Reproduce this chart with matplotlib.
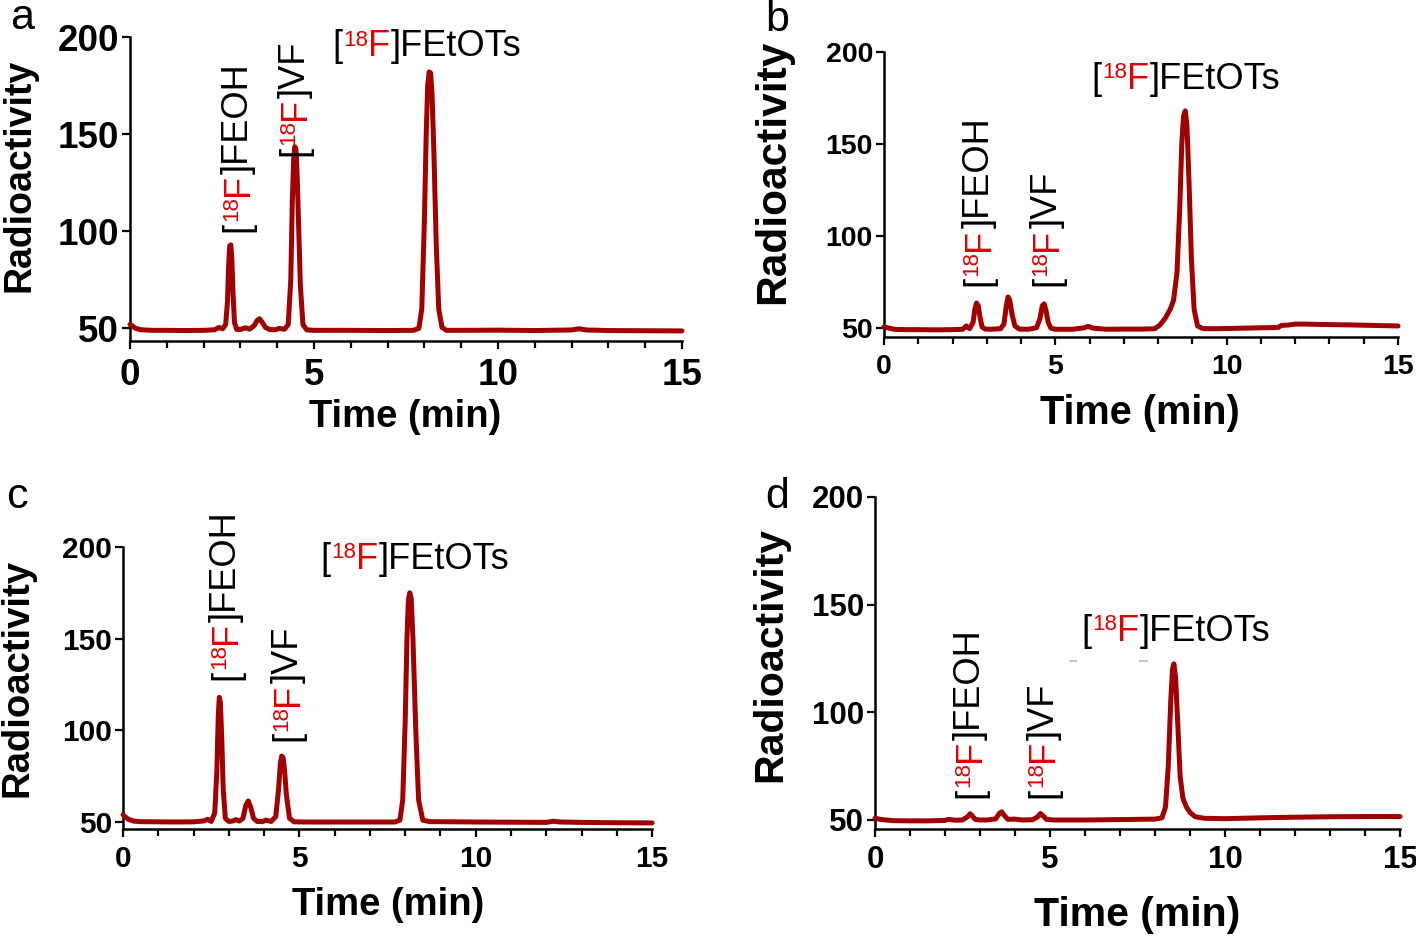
import numpy as np
import matplotlib
matplotlib.use("Agg")
import matplotlib.pyplot as plt
from matplotlib.ticker import MultipleLocator

plt.rcParams['font.family'] = ['Liberation Sans', 'DejaVu Sans']
plt.rcParams['mathtext.default'] = 'regular'

LINE = '#A00000'
RED = '#E00000'

# ---- chromatogram traces (time in min, radioactivity) ----
time_a = [0, 0.05, 0.15, 0.3, 0.6, 1.0, 1.5, 2.0, 2.3, 2.42, 2.52, 2.6, 2.65, 2.68, 2.71, 2.74,
          2.77, 2.8, 2.84, 2.9, 3.0, 3.15, 3.25, 3.38, 3.45, 3.52, 3.6, 3.68, 3.8, 3.95, 4.05,
          4.2, 4.3, 4.37, 4.41, 4.45, 4.48, 4.51, 4.54, 4.58, 4.63, 4.7, 4.8, 5.0, 6.0, 7.0,
          7.7, 7.85, 7.93, 8.0, 8.05, 8.09, 8.13, 8.17, 8.21, 8.26, 8.32, 8.39, 8.48, 8.6, 9.0,
          10.0, 11.0, 12.0, 12.2, 12.4, 13.0, 14.0, 15.0]
signal_a = [52, 51.5, 50, 49.3, 49, 49, 48.9, 49, 49.3, 50.5, 49.8, 52, 64, 82, 92.5, 93,
            85, 68, 53, 49.5, 49.5, 50.3, 49.6, 51.5, 54, 55, 53, 50.5, 49.4, 49.3, 50,
            49.6, 52, 75, 115, 138, 143.5, 142, 130, 105, 72, 52, 49.3, 49, 49, 48.9,
            49, 50, 60, 105, 150, 175, 182, 181.5, 170, 140, 95, 60, 50.5, 49, 49,
            49.1, 48.9, 49.2, 49.8, 49.2, 48.9, 48.8, 48.7]

time_b = [0, 0.1, 0.3, 0.6, 1, 1.5, 2, 2.3, 2.4, 2.5, 2.6, 2.65, 2.7, 2.75, 2.8, 2.86, 2.95,
          3.1, 3.4, 3.5, 3.57, 3.62, 3.67, 3.74, 3.82, 3.95, 4.2, 4.45, 4.55, 4.62, 4.67, 4.72,
          4.79, 4.87, 5.0, 5.5, 5.85, 5.95, 6.1, 6.5, 7, 7.5, 7.9, 8.05, 8.2, 8.35, 8.45, 8.55,
          8.63, 8.69, 8.74, 8.79, 8.84, 8.9, 8.97, 9.05, 9.15, 9.3, 9.6, 10, 10.5, 11, 11.5,
          11.6, 11.8, 12.0, 12.3, 12.8, 13.5, 14, 14.5, 15]
signal_b = [50.5, 50, 49.2, 49, 49, 48.9, 49, 49.2, 51, 49.5, 53, 60, 63.5, 62, 56, 50.5, 49.3,
            49.2, 49.5, 52, 62, 66.8, 65, 57, 51, 49.3, 49.2, 50, 55, 62, 63, 60,
            53, 49.8, 49.2, 49.2, 50, 50.8, 49.8, 49.2, 49.3, 49.3, 49.5, 51.5, 55, 60, 65, 80,
            115, 150, 165, 168, 160, 130, 88, 60, 51, 49.6, 49.5, 49.6, 49.8, 50, 50.2,
            51.3, 51.5, 52, 52, 51.8, 51.6, 51.4, 51.2, 51]

time_c = [0, 0.05, 0.15, 0.3, 0.5, 1, 1.5, 2, 2.3, 2.4, 2.5, 2.6, 2.66, 2.7, 2.73, 2.76, 2.8,
          2.84, 2.9, 3.0, 3.1, 3.2, 3.3, 3.4, 3.48, 3.55, 3.62, 3.7, 3.8, 3.95, 4.05, 4.2, 4.33,
          4.41, 4.46, 4.5, 4.54, 4.58, 4.63, 4.72, 4.85, 5.2, 6, 7, 7.7, 7.85, 7.93, 8.0, 8.05,
          8.09, 8.13, 8.17, 8.22, 8.3, 8.38, 8.5, 8.7, 9.5, 10, 11, 12, 12.2, 12.4, 13, 14, 15]
signal_c = [54, 53, 51.5, 50.5, 50.2, 50.1, 50, 50.1, 50.6, 51.5, 50.3, 55, 78, 108, 118, 115,
            95, 68, 52, 50.3, 50.5, 51.3, 50.5, 52, 59, 61.5, 58, 52, 50.3, 50.2, 51, 50.3, 53,
            68, 82, 86, 85, 78, 65, 52, 50.1, 50, 50, 50, 50, 51, 62, 105, 150,
            171, 175, 172, 150, 100, 62, 51, 50.2, 50.1, 50, 49.9, 49.8, 50.4, 50, 49.8, 49.6, 49.5]

time_d = [0, 0.2, 0.5, 1, 1.5, 2.0, 2.1, 2.3, 2.5, 2.65, 2.72, 2.78, 2.86, 3.0, 3.2, 3.45, 3.55,
          3.62, 3.7, 3.8, 4.0, 4.2, 4.5, 4.65, 4.73, 4.8, 4.9, 5.1, 6, 7, 8, 8.2, 8.3, 8.38,
          8.45, 8.5, 8.54, 8.59, 8.65, 8.72, 8.8, 8.9, 9.0, 9.15, 9.4, 10, 11, 12, 13, 14, 15]
signal_d = [50.8, 50.2, 49.7, 49.6, 49.6, 49.8, 50.3, 49.9, 50, 51.5, 52.9, 52, 50.3, 50, 50, 50.5, 53,
            53.8, 52, 50.3, 50.4, 50, 50.1, 51.5, 53, 52, 50.3, 50, 50, 50.2, 50.4, 51, 56, 75,
            105, 120, 122.5, 116, 95, 70, 60, 56, 53.5, 51.5, 50.8, 50.6, 51, 51.3, 51.5, 51.6, 51.6]

# faint grey marks left in panel d
grey_marks_d = [(5.58, 5.75, 123.8), (7.56, 7.78, 123.8)]

y_ticks = [50, 100, 150, 200]
x_ticks = [0, 5, 10, 15]

fig = plt.figure(figsize=(14.16, 9.4), dpi=100)

panels = [
    # letter, axes rect, y minimum, tick label size, data
    ('a', [0.0918, 0.6372, 0.3898, 0.3234], 43.5, 26.5, time_a, signal_a),
    ('b', [0.6243, 0.6415, 0.3630, 0.3032], 45.0, 20.5, time_b, signal_b),
    ('c', [0.0869, 0.1185, 0.3736, 0.2996], 46.4, 21.5, time_c, signal_c),
    ('d', [0.6179, 0.1185, 0.3708, 0.3528], 46.0, 22.5, time_d, signal_d),
]

axes = {}
for letter, rect, ymin, tsize, t, s in panels:
    ax = fig.add_axes(rect)
    ax.plot(t, s, color=LINE, lw=3.6, solid_joinstyle='round', solid_capstyle='round',
            clip_on=False, zorder=3)
    ax.set_xlim(0, 15)
    ax.set_ylim(ymin, 200)
    ax.set_xticks(x_ticks)
    ax.set_yticks(y_ticks)
    ax.xaxis.set_minor_locator(MultipleLocator(1))
    for sp in ['top', 'right']:
        ax.spines[sp].set_visible(False)
    for sp in ['left', 'bottom']:
        ax.spines[sp].set_linewidth(1.8)
    ax.tick_params(which='major', length=6, width=1.6, labelsize=tsize, pad=2)
    ax.tick_params(axis='x', which='major', pad=6)
    ax.tick_params(which='minor', length=5, width=1.6)
    for lab in ax.get_xticklabels() + ax.get_yticklabels():
        lab.set_fontweight('bold')
    ax.patch.set_alpha(0)
    axes[letter] = ax

for x0, x1, yv in grey_marks_d:
    axes['d'].plot([x0, x1], [yv, yv], color='#c8c8c8', lw=1.5, zorder=1)

# axis titles and panel letters (pixel positions of the original)
def ftext(px, py, s, **kw):
    fig.text(px / 1416, 1 - py / 940, s, ha='center', va='center', **kw)

time_lab = [(405, 417, 27.5), (1140, 413, 28.5), (388, 905, 27.5), (1137, 915, 29.5)]
radio_lab = [(20, 175, 27), (773, 172, 30.5), (18, 678, 27.5), (770, 655, 29.5)]
for px, py, sz in time_lab:
    ftext(px, py, 'Time (min)', fontsize=sz, fontweight='bold')
for px, py, sz in radio_lab:
    ftext(px, py, 'Radioactivity', fontsize=sz, fontweight='bold', rotation=90)
for lt, px, py in [('a', 22, 18), ('b', 777, 20), ('c', 17, 497), ('d', 777, 497)]:
    ftext(px, py, lt, fontsize=31)


def chem_label(ax, x, y, tail, size, vertical=False):
    """[18F]<tail> with red isotope, drawn piece by piece."""
    sup = size * 0.62
    rise = size * 0.30
    if not vertical:
        t = ax.text(x, y, '[', fontsize=size, ha='left', va='baseline', clip_on=False)
        t = ax.annotate('18', xy=(1, y), xycoords=(t, 'data'), xytext=(0.5, rise),
                        textcoords='offset points', fontsize=sup, color=RED,
                        ha='left', va='baseline', annotation_clip=False)
        t = ax.annotate('F', xy=(1, y), xycoords=(t, 'data'), fontsize=size, color=RED,
                        ha='left', va='baseline', annotation_clip=False)
        ax.annotate(']' + tail, xy=(1, y), xycoords=(t, 'data'), fontsize=size,
                    ha='left', va='baseline', annotation_clip=False)
    else:
        kw = dict(rotation=90, rotation_mode='anchor', ha='left', va='baseline',
                  annotation_clip=False)
        t = ax.text(x, y, '[', fontsize=size, rotation=90, rotation_mode='anchor',
                    ha='left', va='baseline', clip_on=False)
        t = ax.annotate('18', xy=(x, 1), xycoords=('data', t), xytext=(-rise, 0.5),
                        textcoords='offset points', fontsize=sup, color=RED, **kw)
        t = ax.annotate('F', xy=(x, 1), xycoords=('data', t), fontsize=size, color=RED, **kw)
        ax.annotate(']' + tail, xy=(x, 1), xycoords=('data', t), fontsize=size, **kw)


LS = 26
# panel a
chem_label(axes['a'], 5.5, 190, 'FEtOTs', LS)
chem_label(axes['a'], 3.2, 99.5, 'FEOH', LS, vertical=True)
chem_label(axes['a'], 4.75, 139, 'VF', LS, vertical=True)
# panel b
chem_label(axes['b'], 6.05, 180, 'FEtOTs', LS)
chem_label(axes['b'], 3.05, 72.5, 'FEOH', LS, vertical=True)
chem_label(axes['b'], 5.05, 72.5, 'VF', LS, vertical=True)
# panel c
chem_label(axes['c'], 5.6, 188, 'FEtOTs', LS)
chem_label(axes['c'], 3.2, 127.5, 'FEOH', LS, vertical=True)
chem_label(axes['c'], 4.95, 94, 'VF', LS, vertical=True)
# panel d
chem_label(axes['d'], 5.9, 133, 'FEtOTs', LS)
chem_label(axes['d'], 3.0, 60.2, 'FEOH', LS, vertical=True)
chem_label(axes['d'], 5.1, 60.2, 'VF', LS, vertical=True)

fig.savefig('out.png', dpi=100)
